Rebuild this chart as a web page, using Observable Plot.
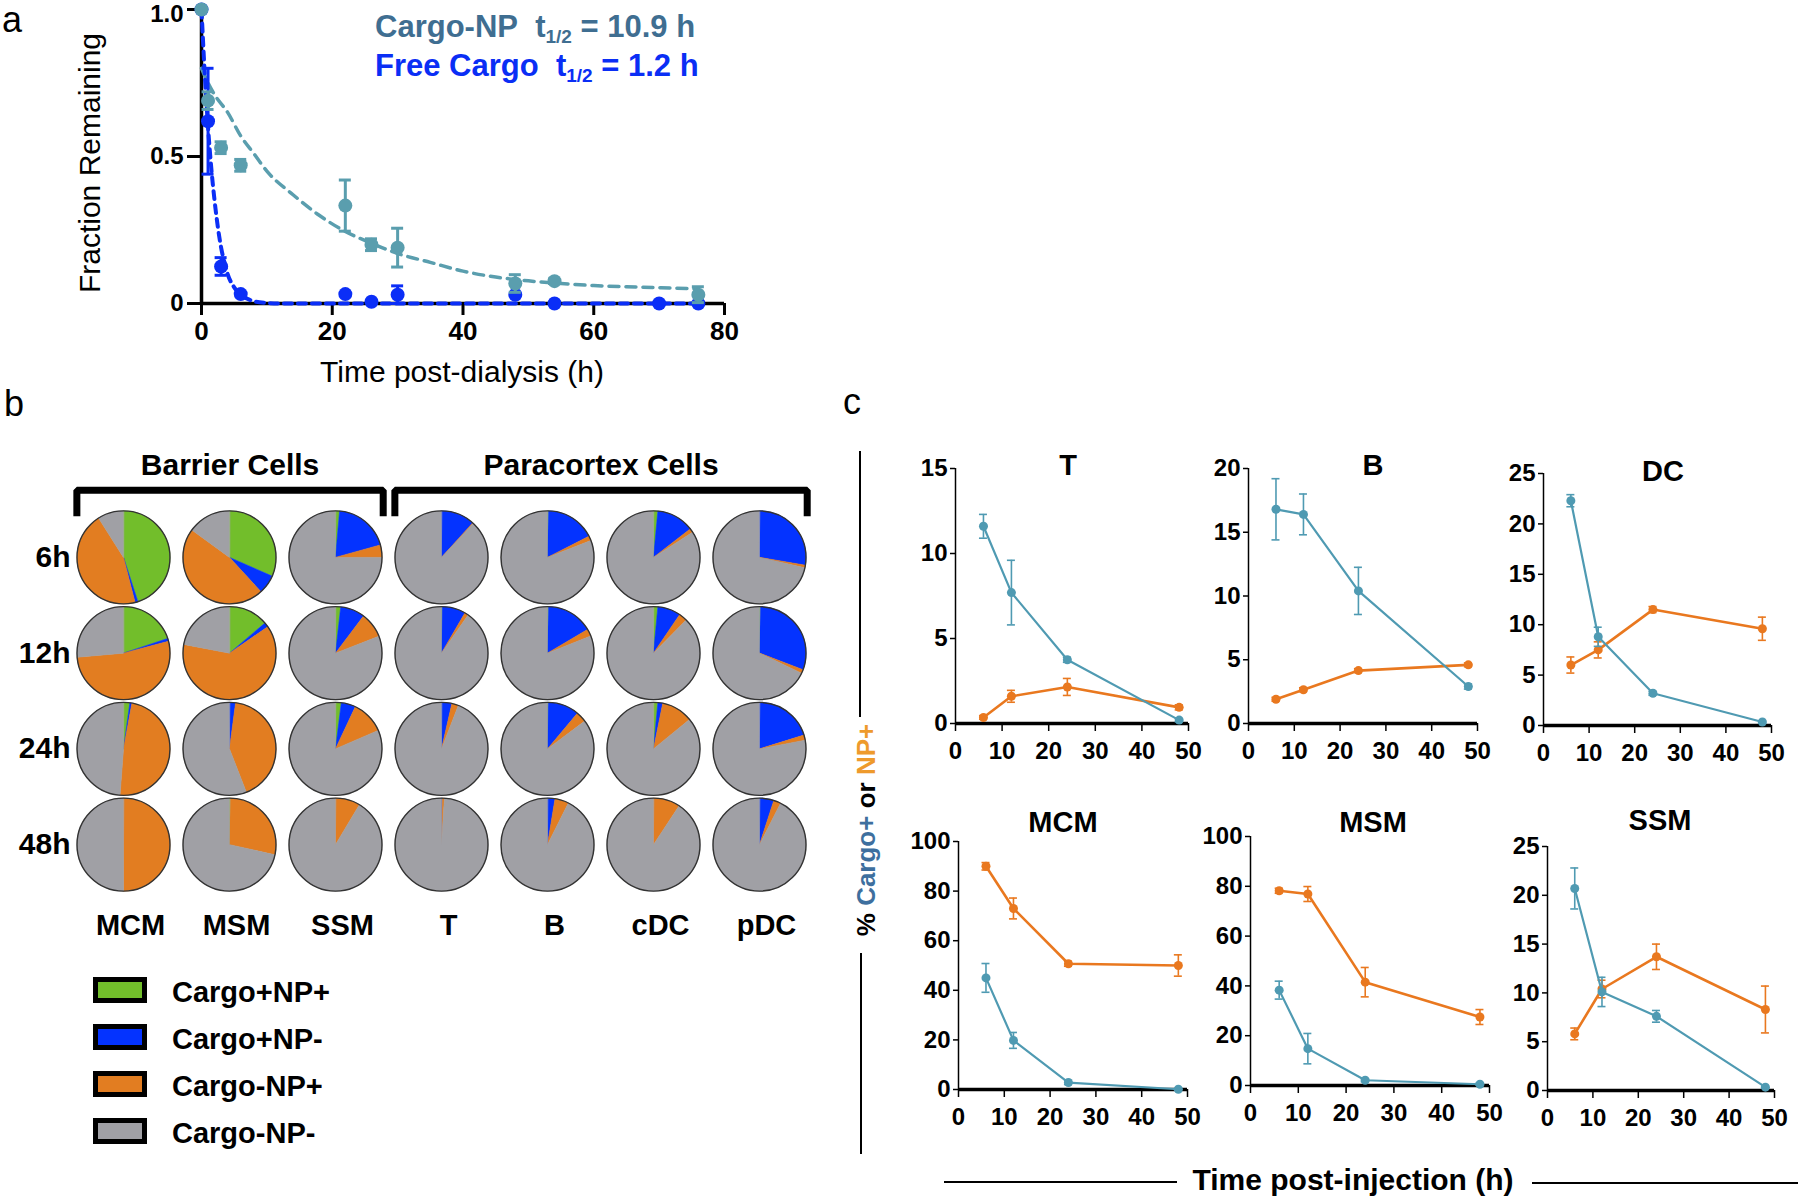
<!DOCTYPE html>
<html><head><meta charset="utf-8">
<script src="https://cdn.jsdelivr.net/npm/d3@7"></script>
<script src="https://cdn.jsdelivr.net/npm/@observablehq/plot@0.6"></script>
<style>
html,body{margin:0;padding:0;background:#fff;}
#fig{position:relative;width:1800px;height:1200px;overflow:hidden;background:#fff;}
</style></head>
<body><div id="fig"></div>
<script>
const FONT = "'Liberation Sans', Arial, Helvetica, sans-serif";

// ---------------- Panel a data ----------------
const npTime = [0, 1, 3, 6, 22, 26, 30, 48, 54, 76];
const npFrac = [1.0, 0.69, 0.53, 0.47, 0.333, 0.20, 0.19, 0.068, 0.076, 0.03];
const npErr  = [0, 0.03, 0.02, 0.02, 0.087, 0.02, 0.066, 0.03, 0.008, 0.027];
const freeTime = [0, 1, 3, 6, 22, 26, 30, 48, 54, 70, 76];
const freeFrac = [1.0, 0.62, 0.126, 0.032, 0.032, 0.006, 0.03, 0.03, 0.0, 0.0, 0.0];
const freeErr  = [0, 0.18, 0.03, 0, 0, 0, 0.03, 0, 0, 0, 0];
const npFitTime = [0, 1, 2, 4, 6, 8, 10, 14, 18, 22, 26, 30, 35, 40, 45, 50, 55, 60, 65, 70, 76];
const npFitFrac = [0.80, 0.75, 0.71, 0.65, 0.57, 0.51, 0.45, 0.37, 0.30, 0.245, 0.205, 0.17, 0.14, 0.11, 0.09, 0.077, 0.068, 0.061, 0.057, 0.054, 0.05];
const freeFitTime = [0, 0.5, 1, 1.5, 2, 2.5, 3, 3.5, 4, 5, 6, 7, 8, 10, 12, 76];
const freeFitFrac = [1.0, 0.78, 0.60, 0.46, 0.35, 0.26, 0.19, 0.14, 0.10, 0.055, 0.03, 0.016, 0.008, 0.002, 0, 0];
const aXTicks = [0, 20, 40, 60, 80];
const aYTicks = [0, 0.5, 1];
const aLegend = ["Cargo-NP", "Free Cargo"];
const aHalfLife = ["10.9 h", "1.2 h"];

// ---------------- Panel b data ----------------
const pieColumns = ["MCM", "MSM", "SSM", "T", "B", "cDC", "pDC"];
const pieRows = ["6h", "12h", "24h", "48h"];
const statusLabels = ["Cargo+NP+", "Cargo+NP-", "Cargo-NP+", "Cargo-NP-"];
// percent of cells, rows = time points, columns = cell types
const cargoPosNpPos = [
  [45, 31.6, 1.4, 0, 0.3, 1.5, 0],
  [19.9, 13.8, 1.8, 0.2, 0.3, 1.5, 0.3],
  [2.2, 0, 2, 0, 0.2, 1.5, 0],
  [0, 0.3, 0, 0, 0, 0, 0]
];
const cargoPosNpNeg = [
  [1, 6.6, 19.3, 11.7, 17.2, 13, 27.7],
  [1, 1.6, 8.5, 8.2, 16.2, 8, 30.5],
  [0.7, 2.1, 5, 3.6, 10.9, 1.7, 20.2],
  [0, 0, 0, 0.2, 2.6, 0, 5]
];
const cargoNegNpPos = [
  [45, 46.8, 4.3, 0.3, 1.6, 1.4, 0.9],
  [52.7, 62.6, 8.8, 1.3, 2.5, 2.9, 1.3],
  [48.3, 42, 11.5, 2.3, 3.7, 10.9, 1.8],
  [50, 28.2, 8.6, 0.8, 4.8, 9.3, 2.5]
];
const cellGroups = ["Barrier Cells", "Paracortex Cells"];
const groupFirst = [0, 3];
const groupLast = [2, 6];

// ---------------- Panel c data ----------------
const timepoints = [6, 12, 24, 48];
const cXTicks = [0, 10, 20, 30, 40, 50];
const tCargo = [11.6, 7.7, 3.75, 0.2],  tCargoErr = [0.7, 1.9, 0.15, 0.1];
const tNP    = [0.35, 1.6, 2.15, 0.95], tNPErr    = [0.1, 0.35, 0.5, 0.15];
const bCargo = [16.8, 16.4, 10.4, 2.9], bCargoErr = [2.4, 1.6, 1.85, 0.2];
const bNP    = [1.9, 2.65, 4.15, 4.6],  bNPErr    = [0.15, 0.15, 0.15, 0.15];
const dcCargo = [22.3, 8.8, 3.2, 0.35], dcCargoErr = [0.6, 0.95, 0.2, 0.1];
const dcNP    = [6.0, 7.5, 11.5, 9.6],  dcNPErr    = [0.8, 0.8, 0.3, 1.15];
const mcmCargo = [45, 19.8, 2.8, 0.1],  mcmCargoErr = [5.8, 3.2, 0.8, 0.3];
const mcmNP    = [90, 73, 50.7, 50],    mcmNPErr    = [1.5, 4.2, 1, 4.3];
const msmCargo = [38.3, 14.8, 2.1, 0.5], msmCargoErr = [3.6, 6.1, 0.6, 0.4];
const msmNP    = [78.2, 76.9, 41.5, 27.5], msmNPErr  = [1, 3, 5.9, 3];
const ssmCargo = [20.7, 10.1, 7.6, 0.34], ssmCargoErr = [2.1, 1.5, 0.6, 0.1];
const ssmNP    = [5.8, 10.4, 13.7, 8.3],  ssmNPErr    = [0.6, 0.9, 1.3, 2.4];
const tTicks = [0, 5, 10, 15];
const bTicks = [0, 5, 10, 15, 20];
const dcTicks = [0, 5, 10, 15, 20, 25];
const pctTicks = [0, 20, 40, 60, 80, 100];
const ssmTicks = [0, 5, 10, 15, 20, 25];

// ---------------- Styles / layout ----------------
const tealA = "#5A9EAE", blueA = "#0B2EF7";
const legendNPColor = "#3F6E91", legendFreeColor = "#0A2EF5";
const statusColors = ["#72BE2B", "#0433FF", "#E27D21", "#A0A0A5"];
const tealC = "#4F9AB2", orangeC = "#E9781F";
const titleCargoColor = "#3E6F9E", titleNPColor = "#EE9A2C";

const fig = document.getElementById("fig");
function place(el, left, top) {
  el.style.position = "absolute";
  el.style.left = left + "px";
  el.style.top = top + "px";
  fig.appendChild(el);
}
function label(html, x, y, o = {}) {
  const d = document.createElement("div");
  d.innerHTML = html;
  d.style.cssText = `position:absolute;left:${x}px;top:${y}px;white-space:nowrap;line-height:1;` +
    `font-family:${FONT};font-size:${o.size || 24}px;font-weight:${o.weight || "bold"};color:${o.color || "#000"};`;
  const tx = o.anchor === "start" ? "0" : o.anchor === "end" ? "-100%" : "-50%";
  d.style.transform = `translate(${tx},-50%)` + (o.rotate ? ` rotate(${o.rotate}deg)` : "");
  fig.appendChild(d);
  return d;
}
function hline(x0, x1, y, w = 2) {
  const d = document.createElement("div");
  d.style.cssText = `position:absolute;left:${x0}px;top:${y - w / 2}px;width:${x1 - x0}px;height:${w}px;background:#000;`;
  fig.appendChild(d);
}
function vline(x, y0, y1, w = 2) {
  const d = document.createElement("div");
  d.style.cssText = `position:absolute;left:${x - w / 2}px;top:${y0}px;width:${w}px;height:${y1 - y0}px;background:#000;`;
  fig.appendChild(d);
}
function framed(box, m, opts) {
  const el = Plot.plot({
    width: box.x1 - box.x0 + m.l + m.r,
    height: box.y1 - box.y0 + m.t + m.b,
    marginLeft: m.l, marginRight: m.r, marginTop: m.t, marginBottom: m.b,
    style: {fontFamily: FONT, overflow: "visible", background: "transparent", maxWidth: "none"},
    ...opts
  });
  place(el, box.x0 - m.l, box.y0 - m.t);
  return el;
}

// ================= Panel a =================
const A = {x0: 201, x1: 724, y0: 9, y1: 303};
const capA = 6 * 80 / (A.x1 - A.x0);
const npData = npTime.map((t, i) => ({t, v: npFrac[i], e: npErr[i]}));
const freeData = freeTime.map((t, i) => ({t, v: freeFrac[i], e: freeErr[i]}));
const npFit = npFitTime.map((t, i) => ({t, v: npFitFrac[i]}));
const freeFit = freeFitTime.map((t, i) => ({t, v: freeFitFrac[i]}));
function errMarks(data, color, cap, sw) {
  const d = data.filter(r => r.e > 0);
  return [
    Plot.ruleX(d, {x: "t", y1: r => r.v - r.e, y2: r => r.v + r.e, stroke: color, strokeWidth: sw}),
    Plot.ruleY(d, {y: r => r.v + r.e, x1: r => r.t - cap, x2: r => r.t + cap, stroke: color, strokeWidth: sw}),
    Plot.ruleY(d, {y: r => r.v - r.e, x1: r => r.t - cap, x2: r => r.t + cap, stroke: color, strokeWidth: sw})
  ];
}
const yFmtA = d => d === 0 ? "0" : d3.format(".1f")(d);
framed(A, {l: 70, r: 30, t: 9, b: 50}, {
  x: {domain: [0, 80]},
  y: {domain: [0, 1]},
  marks: [
    // tick marks only
    Plot.axisY({ticks: aYTicks, tickFormat: () => "", tickSize: 14, strokeWidth: 3, label: null}),
    // tick labels (top label nudged down so it stays inside the page)
    Plot.axisY({ticks: aYTicks.filter(d => d < 1), tickFormat: yFmtA, tickSize: 0, tickPadding: 18,
      fontSize: 24, fontWeight: "bold", label: null}),
    Plot.axisY({ticks: aYTicks.filter(d => d === 1), tickFormat: yFmtA, tickSize: 0, tickPadding: 18,
      fontSize: 24, fontWeight: "bold", dy: 5, label: null}),
    Plot.axisX({ticks: aXTicks, tickSize: 12, tickPadding: 6, fontSize: 26, fontWeight: "bold", strokeWidth: 3, label: null}),
    Plot.ruleX([0], {strokeWidth: 3.5}),
    Plot.ruleY([0], {strokeWidth: 3.5}),
    Plot.line(npFit, {x: "t", y: "v", stroke: tealA, strokeWidth: 3.5, strokeDasharray: "10,7", curve: "monotone-x"}),
    Plot.line(freeFit, {x: "t", y: "v", stroke: blueA, strokeWidth: 4, strokeDasharray: "8,6", curve: "monotone-x"}),
    ...errMarks(freeData, blueA, capA, 3),
    Plot.dot(freeData, {x: "t", y: "v", r: 7, fill: blueA}),
    ...errMarks(npData, tealA, capA, 3),
    Plot.dot(npData, {x: "t", y: "v", r: 7, fill: tealA})
  ]
});
label("a", 12, 20, {size: 36, weight: "normal"});
label("Fraction Remaining", 90, 163, {size: 30, weight: "normal", rotate: -90});
label("Time post-dialysis (h)", 462, 372, {size: 30, weight: "normal"});
label(`${aLegend[0]}&nbsp; t<sub style="font-size:19px;vertical-align:-6px">1/2</sub> = ${aHalfLife[0]}`, 375, 28, {size: 31, anchor: "start", color: legendNPColor});
label(`${aLegend[1]}&nbsp; t<sub style="font-size:19px;vertical-align:-6px">1/2</sub> = ${aHalfLife[1]}`, 375, 67, {size: 31, anchor: "start", color: legendFreeColor});

// ================= Panel b =================
const Bx = {x0: 70, x1: 812, y0: 509, y1: 892};
const colStep = (Bx.x1 - Bx.x0) / pieColumns.length;
const rowStep = (Bx.y1 - Bx.y0) / pieRows.length;
const pieR = 46.5;
const rx = pieR / colStep, ry = pieR / rowStep;
const wedges = [], centers = [];
pieRows.forEach((rowName, r) => pieColumns.forEach((colName, c) => {
  const vals = [cargoPosNpPos[r][c], cargoPosNpNeg[r][c], cargoNegNpPos[r][c]];
  vals.push(100 - vals[0] - vals[1] - vals[2]);
  centers.push({c, r});
  let start = 0;
  vals.forEach((v, k) => {
    if (v <= 0) return;
    const a0 = start / 100 * 2 * Math.PI, a1 = (start + v) / 100 * 2 * Math.PI;
    start += v;
    const id = `${r}-${c}-${k}`, status = statusLabels[k];
    wedges.push({id, status, x: c, y: r});
    const n = Math.max(2, Math.ceil((a1 - a0) / (Math.PI / 90)));
    for (let j = 0; j <= n; j++) {
      const a = a0 + (a1 - a0) * j / n;
      wedges.push({id, status, x: c + rx * Math.sin(a), y: r - ry * Math.cos(a)});
    }
  });
}));
const bracketTop = -0.70, bracketLeg = -0.43, headerY = -0.96;
const brackets = [];
cellGroups.forEach((g, i) => {
  const from = groupFirst[i] - 0.44, to = groupLast[i] + 0.45;
  [[from, bracketLeg], [from, bracketTop], [to, bracketTop], [to, bracketLeg]]
    .forEach(([x, y]) => brackets.push({g, x, y}));
});
const headers = cellGroups.map((g, i) => ({g, x: (groupFirst[i] - 0.44 + groupLast[i] + 0.45) / 2}));
framed(Bx, {l: 70, r: 20, t: 100, b: 70}, {
  x: {domain: [-0.5, pieColumns.length - 0.5], axis: null},
  y: {domain: [pieRows.length - 0.5, -0.5], axis: null},
  color: {domain: statusLabels, range: statusColors},
  marks: [
    Plot.line(wedges, {x: "x", y: "y", z: "id", fill: "status", stroke: "status", strokeWidth: 0.6, curve: "linear-closed"}),
    Plot.dot(centers, {x: "c", y: "r", r: pieR, fill: "none", stroke: "#333", strokeWidth: 1.4}),
    Plot.text(pieRows, {x: () => -0.5, y: (d, i) => i, text: d => d, textAnchor: "end", fontSize: 30, fontWeight: "bold", fill: "#000"}),
    Plot.text(pieColumns, {x: (d, i) => i, y: () => 3.85, text: d => d, dx: 7, fontSize: 29, fontWeight: "bold", fill: "#000"}),
    Plot.line(brackets, {x: "x", y: "y", z: "g", stroke: "#000", strokeWidth: 7, strokeLinejoin: "miter", strokeLinecap: "butt"}),
    Plot.text(headers, {x: "x", y: () => headerY, text: "g", fontSize: 30, fontWeight: "bold", fill: "#000"})
  ]
});
label("b", 14, 404, {size: 36, weight: "normal"});
// legend
const legendY = [990, 1037, 1084, 1131];
statusLabels.forEach((s, i) => {
  const box = document.createElement("div");
  box.style.cssText = `position:absolute;left:93px;top:${legendY[i] - 13}px;width:54px;height:26px;box-sizing:border-box;border:5px solid #000;background:${statusColors[i]};`;
  fig.appendChild(box);
  label(s, 172, legendY[i] + 2, {size: 29, anchor: "start"});
});

// ================= Panel c =================
const cPanels = [
  {name: "T", cargo: tCargo, cargoErr: tCargoErr, np: tNP, npErr: tNPErr, ticks: tTicks},
  {name: "B", cargo: bCargo, cargoErr: bCargoErr, np: bNP, npErr: bNPErr, ticks: bTicks},
  {name: "DC", cargo: dcCargo, cargoErr: dcCargoErr, np: dcNP, npErr: dcNPErr, ticks: dcTicks},
  {name: "MCM", cargo: mcmCargo, cargoErr: mcmCargoErr, np: mcmNP, npErr: mcmNPErr, ticks: pctTicks},
  {name: "MSM", cargo: msmCargo, cargoErr: msmCargoErr, np: msmNP, npErr: msmNPErr, ticks: pctTicks},
  {name: "SSM", cargo: ssmCargo, cargoErr: ssmCargoErr, np: ssmNP, npErr: ssmNPErr, ticks: ssmTicks}
];
const cBoxes = [
  {x0: 955, x1: 1188, y0: 468, y1: 723, tx: 1068, ty: 465},
  {x0: 1248, x1: 1477, y0: 468, y1: 723, tx: 1373, ty: 465},
  {x0: 1543, x1: 1771, y0: 473, y1: 725, tx: 1663, ty: 471},
  {x0: 958, x1: 1187, y0: 841, y1: 1089, tx: 1063, ty: 822},
  {x0: 1250, x1: 1489, y0: 836, y1: 1085, tx: 1373, ty: 822},
  {x0: 1547, x1: 1774, y0: 846, y1: 1090, tx: 1660, ty: 820}
];
cPanels.forEach((p, k) => {
  const box = cBoxes[k];
  const yMax = d3.max(p.ticks);
  const cap = 4 * 50 / (box.x1 - box.x0);
  const cg = timepoints.map((t, i) => ({t, v: p.cargo[i], e: p.cargoErr[i]}));
  const np = timepoints.map((t, i) => ({t, v: p.np[i], e: p.npErr[i]}));
  framed(box, {l: 60, r: 20, t: 20, b: 50}, {
    x: {domain: [0, 50]},
    y: {domain: [0, yMax]},
    marks: [
      Plot.ruleX([0], {y1: 0, y2: yMax, strokeWidth: 1.5}),
      Plot.axisY({ticks: p.ticks, tickSize: 5, tickPadding: 3, fontSize: 24, fontWeight: "bold", strokeWidth: 1.5, label: null}),
      Plot.axisX({ticks: cXTicks, tickSize: 8, tickPadding: 10, fontSize: 24, fontWeight: "bold", strokeWidth: 1.5, label: null}),
      Plot.ruleY([0], {strokeWidth: 3.5}),
      ...errMarks(np, orangeC, cap, 1.6),
      Plot.line(np, {x: "t", y: "v", stroke: orangeC, strokeWidth: 2.6}),
      Plot.dot(np, {x: "t", y: "v", r: 4.5, fill: orangeC}),
      ...errMarks(cg, tealC, cap, 1.6),
      Plot.line(cg, {x: "t", y: "v", stroke: tealC, strokeWidth: 2.2}),
      Plot.dot(cg, {x: "t", y: "v", r: 4.5, fill: tealC})
    ]
  });
  label(p.name, box.tx, box.ty, {size: 29});
});
label("c", 852, 402, {size: 36, weight: "normal"});
label(`% <span style="color:${titleCargoColor}">Cargo+</span> or <span style="color:${titleNPColor}">NP+</span>`, 866, 830, {size: 26, rotate: -90});
vline(860, 451, 717, 2);
vline(861, 953, 1154, 2);
label("Time post-injection (h)", 1353, 1180, {size: 30});
hline(944, 1177, 1182, 2);
hline(1532, 1798, 1183, 2);
</script>
</body></html>
